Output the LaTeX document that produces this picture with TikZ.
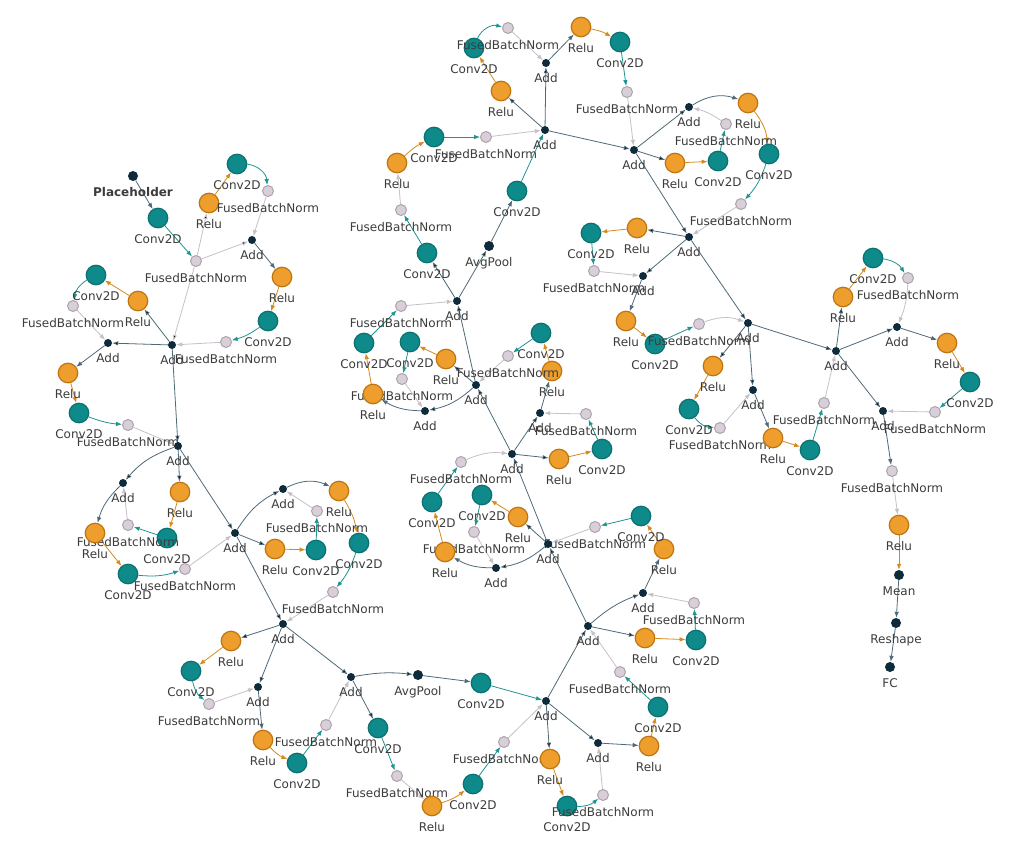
\documentclass[tikz,border=0pt]{standalone}
\usepackage{fontspec}
\setmainfont{DejaVu Sans}
\usetikzlibrary{arrows.meta,backgrounds}
\definecolor{convfill}{HTML}{0F8A8A}
\definecolor{convline}{HTML}{0A7070}
\definecolor{relufill}{HTML}{EE9E2C}
\definecolor{reluline}{HTML}{C07410}
\definecolor{fbnfill}{HTML}{D8CFD9}
\definecolor{fbnline}{HTML}{ADA3AE}
\definecolor{opfill}{HTML}{0E2B3B}
\definecolor{addedge}{HTML}{4E6A78}
\definecolor{convedge}{HTML}{1E9491}
\definecolor{reluedge}{HTML}{D68A1C}
\definecolor{fbnedge}{HTML}{C8C0C9}
\definecolor{labelgray}{HTML}{3C3C3C}

\begin{document}
\begin{tikzpicture}[
    x=1pt, y=-1pt,
    lbl/.style={font=\fontsize{12}{14}\selectfont, text=labelgray, inner sep=0pt, text height=9pt, text depth=2.5pt},
    every label/.style={lbl},
    label distance=6pt,
    conv/.style={circle, draw=convline, line width=1.2pt, fill=convfill, minimum size=19.5pt, inner sep=0pt, label=below:Conv2D},
    relu/.style={circle, draw=reluline, line width=1.2pt, fill=relufill, minimum size=19.5pt, inner sep=0pt, label=below:Relu},
    fbn/.style={circle, draw=fbnline, line width=1pt, fill=fbnfill, minimum size=11pt, inner sep=0pt, label=below:FusedBatchNorm},
    add/.style={circle, fill=opfill, minimum size=8pt, inner sep=0pt, label=below:Add},
    op/.style={circle, fill=opfill, minimum size=10pt, inner sep=0pt},
    link/.style={line width=0.8pt, -{Latex[length=6pt,width=4.5pt]}},
    eadd/.style={link, draw=addedge},
    eop/.style={link, draw=addedge},
    econv/.style={link, draw=convedge},
    erelu/.style={link, draw=reluedge},
    efbn/.style={link, draw=fbnedge}
    ]
  \useasboundingbox (0,0) rectangle (1015,849);

  % stage 1
  \node[op, label={[font=\fontsize{12}{14}\selectfont\bfseries]below:Placeholder}] (ph) at (133,176) {};
  \node[conv] (c10) at (158,218) {};
  \node[fbn] (f10) at (196,261) {};

  \node[relu] (r11a) at (209,203) {};
  \node[conv] (c11a) at (237,164) {};
  \node[fbn] (f11a) at (268,191) {};
  \node[add] (add11a) at (252,240) {};
  \node[relu] (r11b) at (282,277) {};
  \node[conv] (c11b) at (268,321) {};
  \node[fbn] (f11b) at (226,342) {};
  \node[add] (add11b) at (172,345) {};

  \node[relu] (r12a) at (138,301) {};
  \node[conv] (c12a) at (96,275) {};
  \node[fbn] (f12a) at (73,306) {};
  \node[add] (add12a) at (108,343) {};
  \node[relu] (r12b) at (68,373) {};
  \node[conv] (c12b) at (79,413) {};
  \node[fbn] (f12b) at (128,425) {};
  \node[add] (add12b) at (178,446) {};

  \node[relu] (r13a) at (180,492) {};
  \node[conv] (c13a) at (167,538) {};
  \node[fbn] (f13a) at (128,525) {};
  \node[add] (add13a) at (123,483) {};
  \node[relu] (r13b) at (95,533) {};
  \node[conv] (c13b) at (128,574) {};
  \node[fbn] (f13b) at (185,569) {};
  \node[add] (add13b) at (235,533) {};

  \node[relu] (r14a) at (275,549) {};
  \node[conv] (c14a) at (316,550) {};
  \node[fbn] (f14a) at (317,511) {};
  \node[add] (add14a) at (283,489) {};
  \node[relu] (r14b) at (339,491) {};
  \node[conv] (c14b) at (359,543) {};
  \node[fbn] (f14b) at (333,592) {};
  \node[add] (add14b) at (283,624) {};

  \node[relu] (r15a) at (231,641) {};
  \node[conv] (c15a) at (191,671) {};
  \node[fbn] (f15a) at (209,704) {};
  \node[add] (add15a) at (258,687) {};
  \node[relu] (r15b) at (263,740) {};
  \node[conv] (c15b) at (297,763) {};
  \node[fbn] (f15b) at (326,725) {};
  \node[add] (add15b) at (351,677) {};

  % stage 2
  \node[op, label=below:AvgPool] (pool1) at (418,675) {};
  \node[conv] (c20) at (481,683) {};
  \node[conv] (c2da) at (378,728) {};
  \node[fbn] (f2da) at (397,776) {};
  \node[relu] (r2d) at (432,806) {};
  \node[conv] (c2db) at (473,784) {};
  \node[fbn] (f2db) at (504,742) {};
  \node[add] (add20) at (546,701) {};

  \node[relu] (r21a) at (550,759) {};
  \node[conv] (c21a) at (567,806) {};
  \node[fbn] (f21a) at (603,795) {};
  \node[add] (add21a) at (598,743) {};
  \node[relu] (r21b) at (649,746) {};
  \node[conv] (c21b) at (658,707) {};
  \node[fbn] (f21b) at (620,672) {};
  \node[add] (add21b) at (588,626) {};

  \node[relu] (r22a) at (645,638) {};
  \node[conv] (c22a) at (696,640) {};
  \node[fbn] (f22a) at (694,603) {};
  \node[add] (add22a) at (643,593) {};
  \node[relu] (r22b) at (664,549) {};
  \node[conv] (c22b) at (641,516) {};
  \node[fbn] (f22b) at (595,527) {};
  \node[add] (add22b) at (548,544) {};

  \node[relu] (r23a) at (518,517) {};
  \node[conv] (c23a) at (482,495) {};
  \node[fbn] (f23a) at (474,532) {};
  \node[add] (add23a) at (496,568) {};
  \node[relu] (r23b) at (445,552) {};
  \node[conv] (c23b) at (432,502) {};
  \node[fbn] (f23b) at (461,462) {};
  \node[add] (add23b) at (512,454) {};

  \node[relu] (r24a) at (559,459) {};
  \node[conv] (c24a) at (602,449) {};
  \node[fbn] (f24a) at (586,414) {};
  \node[add] (add24a) at (540,413) {};
  \node[relu] (r24b) at (552,371) {};
  \node[conv] (c24b) at (541,333) {};
  \node[fbn] (f24b) at (508,356) {};
  \node[add] (add24b) at (476,385) {};

  \node[relu] (r25a) at (446,359) {};
  \node[conv] (c25a) at (410,342) {};
  \node[fbn] (f25a) at (402,379) {};
  \node[add] (add25a) at (425,411) {};
  \node[relu] (r25b) at (373,394) {};
  \node[conv] (c25b) at (364,343) {};
  \node[fbn] (f25b) at (401,306) {};
  \node[add] (add25b) at (457,301) {};

  % stage 3
  \node[op, label=below:AvgPool] (pool2) at (489,246) {};
  \node[conv] (c30) at (517,191) {};
  \node[conv] (c3da) at (427,253) {};
  \node[fbn] (f3da) at (401,210) {};
  \node[relu] (r3d) at (397,163) {};
  \node[conv] (c3db) at (434,137) {};
  \node[fbn] (f3db) at (486,137) {};
  \node[add] (add30) at (545,130) {};

  \node[relu] (r31a) at (501,91) {};
  \node[conv] (c31a) at (474,48) {};
  \node[fbn] (f31a) at (508,28) {};
  \node[add] (add31a) at (546,63) {};
  \node[relu] (r31b) at (581,27) {};
  \node[conv] (c31b) at (620,42) {};
  \node[fbn] (f31b) at (627,92) {};
  \node[add] (add31b) at (634,150) {};

  \node[relu] (r32a) at (675,163) {};
  \node[conv] (c32a) at (718,161) {};
  \node[fbn] (f32a) at (726,124) {};
  \node[add] (add32a) at (689,107) {};
  \node[relu] (r32b) at (748,103) {};
  \node[conv] (c32b) at (769,154) {};
  \node[fbn] (f32b) at (741,204) {};
  \node[add] (add32b) at (689,237) {};

  \node[relu] (r33a) at (637,228) {};
  \node[conv] (c33a) at (591,233) {};
  \node[fbn] (f33a) at (594,271) {};
  \node[add] (add33a) at (643,276) {};
  \node[relu] (r33b) at (626,321) {};
  \node[conv] (c33b) at (655,344) {};
  \node[fbn] (f33b) at (699,324) {};
  \node[add] (add33b) at (748,323) {};

  \node[relu] (r34a) at (713,366) {};
  \node[conv] (c34a) at (689,409) {};
  \node[fbn] (f34a) at (720,428) {};
  \node[add] (add34a) at (753,390) {};
  \node[relu] (r34b) at (773,438) {};
  \node[conv] (c34b) at (810,450) {};
  \node[fbn] (f34b) at (824,403) {};
  \node[add] (add34b) at (836,351) {};

  \node[relu] (r35a) at (843,297) {};
  \node[conv] (c35a) at (873,258) {};
  \node[fbn] (f35a) at (908,278) {};
  \node[add] (add35a) at (897,327) {};
  \node[relu] (r35b) at (947,343) {};
  \node[conv] (c35b) at (970,382) {};
  \node[fbn] (f35b) at (935,412) {};
  \node[add] (add35b) at (883,411) {};

  % head
  \node[fbn] (fout) at (892,471) {};
  \node[relu] (rout) at (899,525) {};
  \node[op, label=below:Mean] (mean) at (899,575) {};
  \node[op, label=below:Reshape] (reshape) at (896,623) {};
  \node[op, label=below:FC] (fc) at (890,667) {};

  \begin{pgfonlayer}{background}
  \fill[white] (0,0) rectangle (1015,849);

  % stage 1 edges
  \draw[eop] (ph) -- (c10);
  \draw[econv] (c10) -- (f10);
  \draw[efbn] (f10) edge (r11a) edge (add11a) edge (add11b);
  \draw[erelu] (r11a) -- (c11a);
  \draw[econv] (c11a) to[bend left=40] (f11a);
  \draw[efbn] (f11a) -- (add11a);
  \draw[eadd] (add11a) -- (r11b);
  \draw[erelu] (r11b) -- (c11b);
  \draw[econv] (c11b) to[bend left=10] (f11b);
  \draw[efbn] (f11b) -- (add11b);

  \draw[eadd] (add11b) edge (r12a) edge (add12a) edge (add12b);
  \draw[erelu] (r12a) -- (c12a);
  \draw[econv] (c12a) to[bend right=25] (f12a);
  \draw[efbn] (f12a) -- (add12a);
  \draw[eadd] (add12a) -- (r12b);
  \draw[erelu] (r12b) -- (c12b);
  \draw[econv] (c12b) to[bend right=8] (f12b);
  \draw[efbn] (f12b) -- (add12b);

  \draw[eadd] (add12b) edge (r13a) edge[bend right=15] (add13a) edge (add13b);
  \draw[erelu] (r13a) -- (c13a);
  \draw[econv] (c13a) -- (f13a);
  \draw[efbn] (f13a) -- (add13a);
  \draw[eadd] (add13a) to[bend right=15] (r13b);
  \draw[erelu] (r13b) -- (c13b);
  \draw[econv] (c13b) to[bend right=12] (f13b);
  \draw[efbn] (f13b) -- (add13b);

  \draw[eadd] (add13b) edge (r14a) edge[bend left=15] (add14a) edge (add14b);
  \draw[erelu] (r14a) -- (c14a);
  \draw[econv] (c14a) -- (f14a);
  \draw[efbn] (f14a) -- (add14a);
  \draw[eadd] (add14a) to[bend left=25] (r14b);
  \draw[erelu] (r14b) to[bend left=10] (c14b);
  \draw[econv] (c14b) to[bend left=10] (f14b);
  \draw[efbn] (f14b) -- (add14b);

  \draw[eadd] (add14b) edge (r15a) edge (add15a) edge (add15b);
  \draw[erelu] (r15a) -- (c15a);
  \draw[econv] (c15a) to[bend right=20] (f15a);
  \draw[efbn] (f15a) -- (add15a);
  \draw[eadd] (add15a) -- (r15b);
  \draw[erelu] (r15b) to[bend right=12] (c15b);
  \draw[econv] (c15b) -- (f15b);
  \draw[efbn] (f15b) -- (add15b);

  % stage 2 edges
  \draw[eadd] (add15b) edge[bend left=8] (pool1) edge (c2da);
  \draw[eop] (pool1) -- (c20);
  \draw[econv] (c20) -- (add20);
  \draw[econv] (c2da) -- (f2da);
  \draw[efbn] (f2da) -- (r2d);
  \draw[erelu] (r2d) to[bend right=10] (c2db);
  \draw[econv] (c2db) -- (f2db);
  \draw[efbn] (f2db) -- (add20);

  \draw[eadd] (add20) edge (r21a) edge (add21a) edge (add21b);
  \draw[erelu] (r21a) -- (c21a);
  \draw[econv] (c21a) to[bend right=20] (f21a);
  \draw[efbn] (f21a) -- (add21a);
  \draw[eadd] (add21a) -- (r21b);
  \draw[erelu] (r21b) -- (c21b);
  \draw[econv] (c21b) -- (f21b);
  \draw[efbn] (f21b) -- (add21b);

  \draw[eadd] (add21b) edge (r22a) edge[bend left=10] (add22a) edge (add22b);
  \draw[erelu] (r22a) -- (c22a);
  \draw[econv] (c22a) -- (f22a);
  \draw[efbn] (f22a) -- (add22a);
  \draw[eadd] (add22a) -- (r22b);
  \draw[erelu] (r22b) -- (c22b);
  \draw[econv] (c22b) -- (f22b);
  \draw[efbn] (f22b) -- (add22b);

  \draw[eadd] (add22b) edge (r23a) edge[bend left=15] (add23a) edge (add23b);
  \draw[erelu] (r23a) -- (c23a);
  \draw[econv] (c23a) -- (f23a);
  \draw[efbn] (f23a) -- (add23a);
  \draw[eadd] (add23a) to[bend left=15] (r23b);
  \draw[erelu] (r23b) -- (c23b);
  \draw[econv] (c23b) -- (f23b);
  \draw[efbn] (f23b) to[bend left=15] (add23b);

  \draw[eadd] (add23b) edge (r24a) edge (add24a) edge (add24b);
  \draw[erelu] (r24a) -- (c24a);
  \draw[econv] (c24a) -- (f24a);
  \draw[efbn] (f24a) -- (add24a);
  \draw[eadd] (add24a) -- (r24b);
  \draw[erelu] (r24b) -- (c24b);
  \draw[econv] (c24b) -- (f24b);
  \draw[efbn] (f24b) -- (add24b);

  \draw[eadd] (add24b) edge (r25a) edge[bend left=15] (add25a) edge (add25b);
  \draw[erelu] (r25a) -- (c25a);
  \draw[econv] (c25a) -- (f25a);
  \draw[efbn] (f25a) -- (add25a);
  \draw[eadd] (add25a) to[bend left=15] (r25b);
  \draw[erelu] (r25b) -- (c25b);
  \draw[econv] (c25b) -- (f25b);
  \draw[efbn] (f25b) -- (add25b);

  % stage 3 edges
  \draw[eadd] (add25b) edge (pool2) edge (c3da);
  \draw[eop] (pool2) -- (c30);
  \draw[econv] (c30) -- (add30);
  \draw[econv] (c3da) -- (f3da);
  \draw[efbn] (f3da) -- (r3d);
  \draw[erelu] (r3d) to[bend left=8] (c3db);
  \draw[econv] (c3db) -- (f3db);
  \draw[efbn] (f3db) -- (add30);

  \draw[eadd] (add30) edge (r31a) edge (add31a) edge (add31b);
  \draw[erelu] (r31a) -- (c31a);
  \draw[econv] (c31a) to[bend left=40] (f31a);
  \draw[efbn] (f31a) -- (add31a);
  \draw[eadd] (add31a) -- (r31b);
  \draw[erelu] (r31b) to[bend left=10] (c31b);
  \draw[econv] (c31b) -- (f31b);
  \draw[efbn] (f31b) -- (add31b);

  \draw[eadd] (add31b) edge (r32a) edge (add32a) edge (add32b);
  \draw[erelu] (r32a) -- (c32a);
  \draw[econv] (c32a) -- (f32a);
  \draw[efbn] (f32a) to[bend right=10] (add32a);
  \draw[eadd] (add32a) to[bend left=25] (r32b);
  \draw[erelu] (r32b) to[bend left=15] (c32b);
  \draw[econv] (c32b) to[bend left=12] (f32b);
  \draw[efbn] (f32b) -- (add32b);

  \draw[eadd] (add32b) edge (r33a) edge (add33a) edge (add33b);
  \draw[erelu] (r33a) -- (c33a);
  \draw[econv] (c33a) -- (f33a);
  \draw[efbn] (f33a) -- (add33a);
  \draw[eadd] (add33a) -- (r33b);
  \draw[erelu] (r33b) -- (c33b);
  \draw[econv] (c33b) -- (f33b);
  \draw[efbn] (f33b) to[bend left=20] (add33b);

  \draw[eadd] (add33b) edge (r34a) edge (add34a) edge (add34b);
  \draw[erelu] (r34a) -- (c34a);
  \draw[econv] (c34a) to[bend right=25] (f34a);
  \draw[efbn] (f34a) -- (add34a);
  \draw[eadd] (add34a) -- (r34b);
  \draw[erelu] (r34b) -- (c34b);
  \draw[econv] (c34b) -- (f34b);
  \draw[efbn] (f34b) -- (add34b);

  \draw[eadd] (add34b) edge (r35a) edge (add35a) edge (add35b);
  \draw[erelu] (r35a) -- (c35a);
  \draw[econv] (c35a) to[bend left=25] (f35a);
  \draw[efbn] (f35a) to[bend left=10] (add35a);
  \draw[eadd] (add35a) -- (r35b);
  \draw[erelu] (r35b) -- (c35b);
  \draw[econv] (c35b) -- (f35b);
  \draw[efbn] (f35b) -- (add35b);

  % head edges
  \draw[eadd] (add35b) -- (fout);
  \draw[efbn] (fout) -- (rout);
  \draw[erelu] (rout) -- (mean);
  \draw[eop] (mean) -- (reshape);
  \draw[eop] (reshape) -- (fc);
  \end{pgfonlayer}
\end{tikzpicture}
\end{document}
